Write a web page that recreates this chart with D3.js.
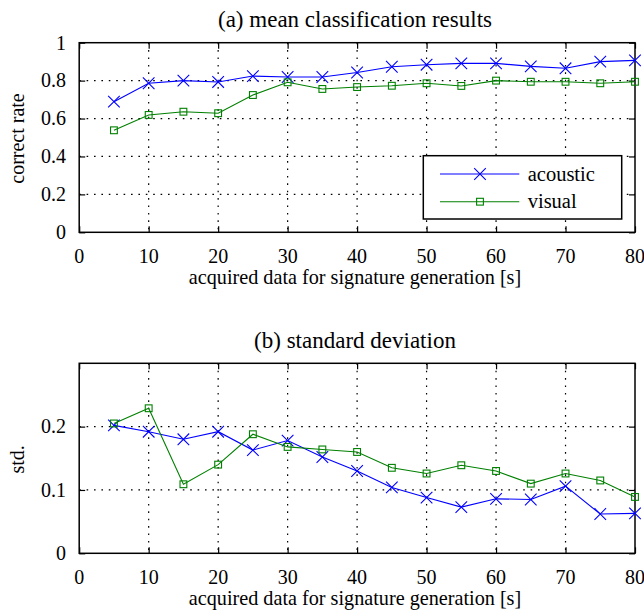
<!DOCTYPE html>
<meta charset="utf-8">
<style>
  body { margin: 0; background: #fff; }
</style>
<div id="chart"></div>
<script src="https://cdn.jsdelivr.net/npm/d3@7"></script>
<script>
// data
var seconds = [5, 10, 15, 20, 25, 30, 35, 40, 45, 50, 55, 60, 65, 70, 75, 80];
var meanAcoustic = [0.689, 0.786, 0.800, 0.793, 0.824, 0.819, 0.819, 0.843, 0.873, 0.884, 0.891, 0.891, 0.875, 0.865, 0.900, 0.907];
var meanVisual   = [0.538, 0.619, 0.636, 0.628, 0.724, 0.791, 0.756, 0.766, 0.773, 0.786, 0.772, 0.800, 0.794, 0.794, 0.786, 0.794];
var stdAcoustic  = [0.202, 0.192, 0.180, 0.192, 0.163, 0.178, 0.152, 0.130, 0.104, 0.088, 0.073, 0.086, 0.085, 0.106, 0.062, 0.063];
var stdVisual    = [0.205, 0.229, 0.109, 0.140, 0.188, 0.168, 0.164, 0.160, 0.135, 0.126, 0.139, 0.130, 0.110, 0.126, 0.115, 0.089];
var xTicks = [0, 10, 20, 30, 40, 50, 60, 70, 80];
var meanTicks = [0, 0.2, 0.4, 0.6, 0.8, 1];
var stdTicks = [0, 0.1, 0.2];
var seriesNames = ["acoustic", "visual"];
var seriesColors = ["#0000ff", "#008000"];

var FONT = "Liberation Serif";
var W = 644, H = 616;
var svg = d3.select("#chart").append("svg").attr("width", W).attr("height", H);

var x = d3.scaleLinear().domain([0, 80]).range([79.2, 635]);

function label(g, txt, size) {
  return g.append("text").attr("font-family", FONT).attr("font-size", size).attr("fill", "#000").text(txt);
}

function panel(opts) {
  var y = d3.scaleLinear().domain(opts.domain).range([opts.bottom, opts.top]);
  var g = svg.append("g");
  var x0 = x.range()[0], x1 = x.range()[1];

  // dotted grid
  g.selectAll(".gx").data(xTicks.slice(1, -1)).enter().append("line")
    .attr("x1", function(d) { return x(d); }).attr("x2", function(d) { return x(d); })
    .attr("y1", opts.top).attr("y2", opts.bottom)
    .attr("stroke", "#000").attr("stroke-width", 1.2).attr("stroke-dasharray", "1.6,5.8");
  g.selectAll(".gy").data(opts.ticks.filter(function(d) { return d > opts.domain[0] && d < opts.domain[1]; })).enter().append("line")
    .attr("y1", function(d) { return y(d); }).attr("y2", function(d) { return y(d); })
    .attr("x1", x0).attr("x2", x1)
    .attr("stroke", "#000").attr("stroke-width", 1.2).attr("stroke-dasharray", "1.6,5.8");

  // axes with inward ticks on all four sides
  var bottomAxis = d3.axisBottom(x).tickValues(xTicks).tickSize(-6).tickFormat("");
  var topAxis = d3.axisTop(x).tickValues(xTicks).tickSize(-6).tickFormat("");
  var leftAxis = d3.axisLeft(y).tickValues(opts.ticks).tickSize(-6).tickFormat("");
  var rightAxis = d3.axisRight(y).tickValues(opts.ticks).tickSize(-6).tickFormat("");
  [[bottomAxis, "translate(0," + opts.bottom + ")"], [topAxis, "translate(0," + opts.top + ")"],
   [leftAxis, "translate(" + x0 + ",0)"], [rightAxis, "translate(" + x1 + ",0)"]].forEach(function(a) {
    var ag = g.append("g").attr("transform", a[1]).call(a[0]);
    ag.select(".domain").remove();
    ag.selectAll("text").remove();
    ag.selectAll("line").attr("stroke", "#000").attr("stroke-width", 1.2);
  });
  g.append("rect").attr("x", x0).attr("y", opts.top).attr("width", x1 - x0).attr("height", opts.bottom - opts.top)
    .attr("fill", "none").attr("stroke", "#000").attr("stroke-width", 1.5);

  xTicks.forEach(function(d) {
    label(g, d, 20).attr("x", x(d)).attr("y", opts.bottom + 30.5).attr("text-anchor", "middle");
  });
  opts.ticks.forEach(function(d) {
    label(g, d, 20).attr("x", 66).attr("y", y(d)).attr("dy", "0.34em").attr("text-anchor", "end");
  });

  label(g, opts.title, 23).attr("x", 355).attr("y", opts.titleY).attr("text-anchor", "middle");
  label(g, "acquired data for signature generation [s]", 20.2)
    .attr("x", 355).attr("y", opts.bottom + 52).attr("text-anchor", "middle");
  label(g, opts.ylabel, 20)
    .attr("transform", "translate(24," + ((opts.top + opts.bottom) / 2 + 1) + ") rotate(-90)")
    .attr("text-anchor", "middle");

  var line = d3.line().x(function(d, i) { return x(seconds[i]); }).y(function(d) { return y(d); });
  opts.series.forEach(function(vals, si) {
    var c = seriesColors[si];
    g.append("path").datum(vals).attr("d", line).attr("fill", "none").attr("stroke", c).attr("stroke-width", 1.1);
    drawMarkers(g, vals.map(function(v, i) { return [x(seconds[i]), y(v)]; }), si);
  });
}

function drawMarkers(g, pts, si) {
  var c = seriesColors[si];
  pts.forEach(function(p) {
    if (si === 0) {
      var s = 5.8;
      g.append("path").attr("d", "M" + (p[0] - s) + "," + (p[1] - s) + "L" + (p[0] + s) + "," + (p[1] + s) +
          "M" + (p[0] - s) + "," + (p[1] + s) + "L" + (p[0] + s) + "," + (p[1] - s))
        .attr("stroke", c).attr("stroke-width", 1.1).attr("fill", "none");
    } else {
      var h = 3.4;
      g.append("rect").attr("x", p[0] - h).attr("y", p[1] - h).attr("width", 2 * h).attr("height", 2 * h)
        .attr("fill", "none").attr("stroke", c).attr("stroke-width", 1.1);
    }
  });
}

panel({ domain: [0, 1], top: 42.7, bottom: 232.3, ticks: meanTicks, title: "(a) mean classification results",
        titleY: 26.7, ylabel: "correct rate", series: [meanAcoustic, meanVisual] });
panel({ domain: [0, 0.3], top: 363.3, bottom: 553.3, ticks: stdTicks, title: "(b) standard deviation",
        titleY: 348.3, ylabel: "std.", series: [stdAcoustic, stdVisual] });

// legend in the top panel
var leg = svg.append("g");
leg.append("rect").attr("x", 423.3).attr("y", 155.7).attr("width", 198.4).attr("height", 63.3)
  .attr("fill", "#fff").attr("stroke", "#000").attr("stroke-width", 1.5);
var legY = [174, 201.7];
seriesNames.forEach(function(name, i) {
  leg.append("line").attr("x1", 440).attr("x2", 519.3).attr("y1", legY[i]).attr("y2", legY[i])
    .attr("stroke", seriesColors[i]).attr("stroke-width", 1.1);
  drawMarkers(leg, [[480, legY[i]]], i);
  label(leg, name, 20.5).attr("x", 527.7).attr("y", legY[i]).attr("dy", "0.32em");
});
</script>
